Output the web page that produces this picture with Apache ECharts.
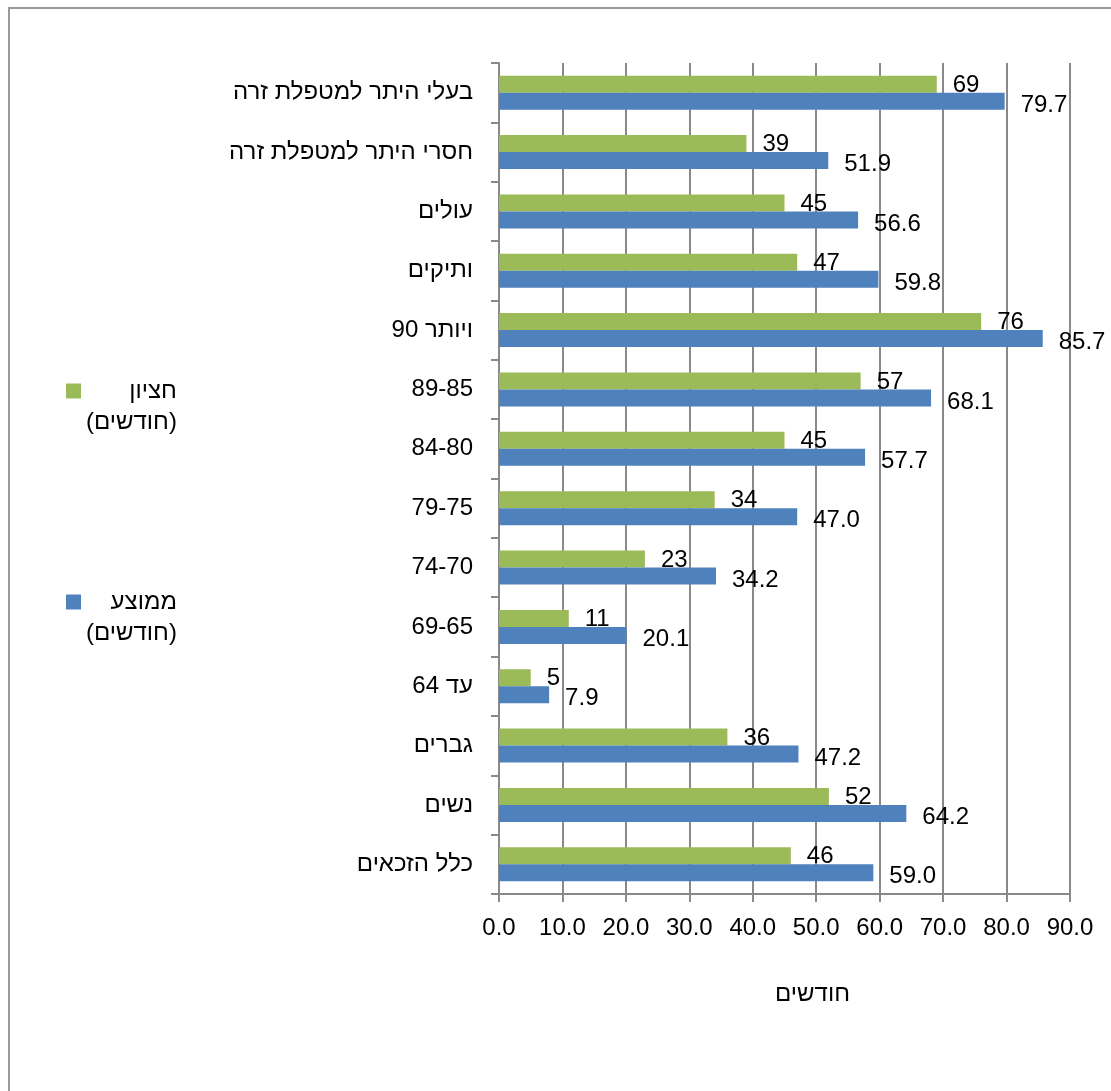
<!DOCTYPE html>
<html>
<head>
<meta charset="utf-8">
<script src="https://cdn.jsdelivr.net/npm/echarts@6/dist/echarts.min.js"></script>
<style>
  html, body { margin: 0; padding: 0; background: #fff; }
  #chart { width: 1111px; height: 1091px; }
</style>
</head>
<body>
<div id="chart"></div>
<script>
// Categories, bottom to top
const categories = [
  'כלל הזכאים',
  'נשים',
  'גברים',
  'עד 64',
  '69-65',
  '74-70',
  '79-75',
  '84-80',
  '89-85',
  'ויותר 90',
  'ותיקים',
  'עולים',
  'חסרי היתר למטפלת זרה',
  'בעלי היתר למטפלת זרה'
];

// Median months
const medianValues = [46, 52, 36, 5, 11, 23, 34, 45, 57, 76, 47, 45, 39, 69];
// Mean months
const meanValues = [59.0, 64.2, 47.2, 7.9, 20.1, 34.2, 47.0, 57.7, 68.1, 85.7, 59.8, 56.6, 51.9, 79.7];

const seriesNames = ['חציון (חודשים)', 'ממוצע (חודשים)'];
const legendLines = { 'חציון (חודשים)': ['חציון', '(חודשים)'], 'ממוצע (חודשים)': ['ממוצע', '(חודשים)'] };
const axisName = 'חודשים';

const FONT = "Arial, 'Liberation Sans', 'DejaVu Sans', sans-serif";
const FS = 24;
const GRID_COLOR = '#898989';

const chart = echarts.init(document.getElementById('chart'), null, { renderer: 'canvas' });

function legendFor(name, top) {
  return {
    data: [name],
    orient: 'vertical',
    left: 66,
    top: top,
    padding: 0,
    itemWidth: 15,
    itemHeight: 15,
    icon: 'rect',
    selectedMode: false,
    formatter: n => legendLines[n].map(s => '{r|' + s + '}').join('\n'),
    textStyle: {
      color: '#000',
      fontFamily: FONT,
      fontSize: FS,
      padding: [31, 0, 0, 0],
      rich: { r: { align: 'right', fontSize: FS, fontFamily: FONT, lineHeight: 31, color: '#000' } }
    }
  };
}

chart.setOption({
  animation: false,
  backgroundColor: '#fff',
  textStyle: { fontFamily: FONT },
  graphic: [{
    type: 'rect',
    shape: { x: 9, y: 8, width: 1140, height: 1120 },
    style: { fill: 'none', stroke: '#9a9a9a', lineWidth: 2 },
    silent: true
  }],
  legend: [legendFor(seriesNames[0], 379), legendFor(seriesNames[1], 590)],
  grid: { left: 499, right: 41, top: 63, bottom: 197 },
  xAxis: {
    type: 'value',
    min: 0,
    max: 90,
    interval: 10,
    name: axisName,
    nameLocation: 'middle',
    nameGap: 88,
    nameTextStyle: { color: '#000', fontSize: FS, fontFamily: FONT, padding: [0, 0, 0, 56] },
    axisLine: { show: true, lineStyle: { color: GRID_COLOR, width: 2 } },
    axisTick: { show: true, length: 8, lineStyle: { color: GRID_COLOR, width: 2 } },
    axisLabel: { color: '#000', fontSize: FS, fontFamily: FONT, margin: 22, formatter: v => v.toFixed(1) },
    splitLine: { show: true, lineStyle: { color: GRID_COLOR, width: 2 } }
  },
  yAxis: {
    type: 'category',
    data: categories,
    axisLine: { show: true, lineStyle: { color: GRID_COLOR, width: 2 } },
    axisTick: { show: true, length: 8, alignWithLabel: false, lineStyle: { color: GRID_COLOR, width: 2 } },
    axisLabel: { color: '#000', fontSize: FS, fontFamily: FONT, margin: 26 },
    splitLine: { show: false }
  },
  series: [
    {
      name: seriesNames[0],
      type: 'bar',
      data: medianValues,
      barWidth: 17,
      barGap: '0%',
      itemStyle: { color: '#9BBB59' },
      label: {
        show: true, position: 'right', distance: 16, offset: [0, 1],
        color: '#000', fontSize: FS, fontFamily: FONT,
        formatter: p => String(p.value)
      }
    },
    {
      name: seriesNames[1],
      type: 'bar',
      data: meanValues,
      barWidth: 17,
      barGap: '0%',
      itemStyle: { color: '#4F81BD' },
      label: {
        show: true, position: 'right', distance: 16, offset: [0, 4],
        color: '#000', fontSize: FS, fontFamily: FONT,
        formatter: p => p.value.toFixed(1)
      }
    }
  ]
});
</script>
</body>
</html>
